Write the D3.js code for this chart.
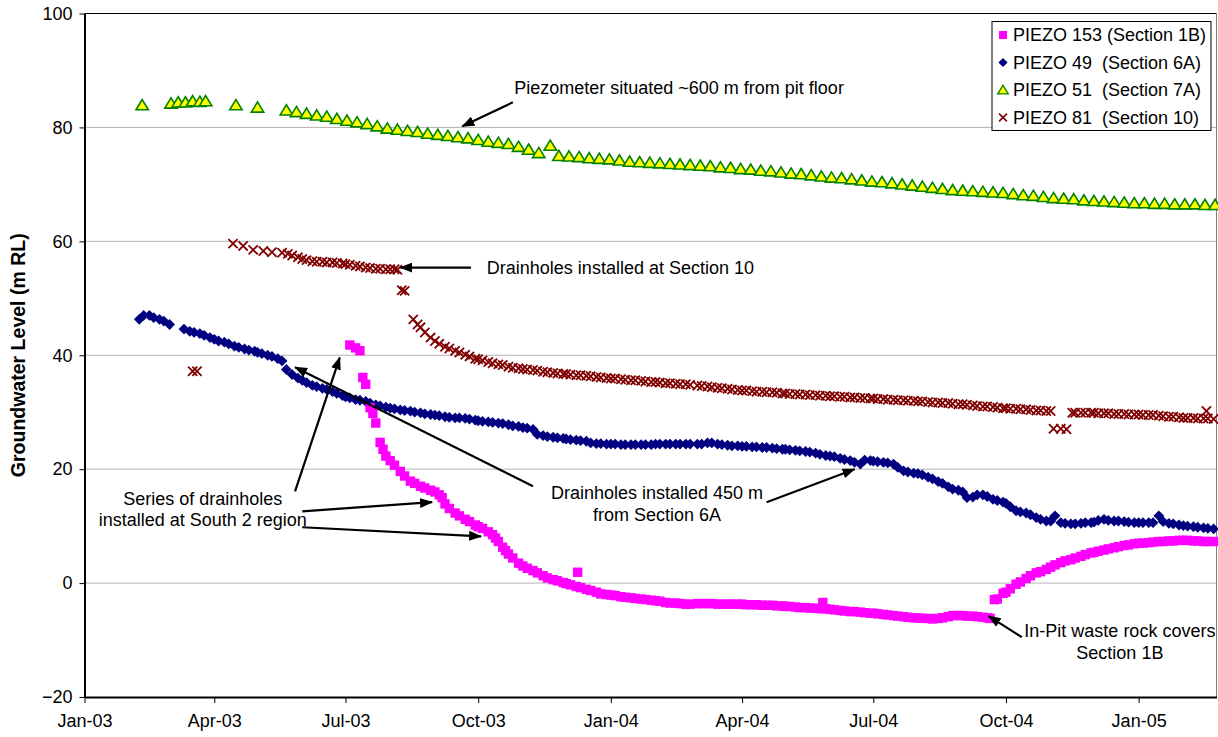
<!DOCTYPE html>
<html>
<head>
<meta charset="utf-8">
<script src="https://cdn.jsdelivr.net/npm/d3@7"></script>
<style>
  body { margin: 0; background: #fff; }
  text { font-family: "Liberation Sans", Arial, sans-serif; fill: #000; }
</style>
</head>
<body>
<svg id="chart" width="1218" height="737"></svg>
<script>
// ---- data (date yy-mm-dd, level m RL) ----
const seriesNames = ["PIEZO 153 (Section 1B)", "PIEZO 49  (Section 6A)", "PIEZO 51  (Section 7A)", "PIEZO 81  (Section 10)"];
const yTicks = [-20, 0, 20, 40, 60, 80, 100];
const xRange = ["03-01-01", "05-02-24"];

const piezo153 = [
  ["03-07-04",41.8],["03-07-08",41.3],["03-07-11",40.8],["03-07-13",36.1],["03-07-15",34.9],["03-07-18",30.8],["03-07-20",29.8],["03-07-22",28.1],["03-07-25",24.7],["03-07-27",23.5],["03-07-29",22.3],
  ["03-08-01",21.5],["03-08-04",20.7],["03-08-08",19.6],["03-08-11",18.8],["03-08-15",17.9],["03-08-18",17.5],["03-08-22",17.0],["03-08-25",16.7],["03-08-29",16.3],
  ["03-09-01",16.0],["03-09-04",15.5],["03-09-06",15.0],["03-09-08",13.9],["03-09-11",13.1],["03-09-15",12.3],["03-09-18",11.8],["03-09-22",11.2],["03-09-25",10.8],["03-09-29",10.2],
  ["03-10-01",9.9],["03-10-04",9.6],["03-10-08",9.0],["03-10-11",8.5],["03-10-13",7.9],["03-10-15",7.3],["03-10-18",6.3],["03-10-20",5.7],["03-10-22",5.1],["03-10-25",4.4],["03-10-29",3.5],
  ["03-11-01",3.0],["03-11-04",2.6],["03-11-08",2.2],["03-11-11",1.8],["03-11-15",1.3],["03-11-18",0.9],["03-11-22",0.6],["03-11-25",0.4],["03-11-29",0.1],
  ["03-12-01",-0.1],["03-12-04",-0.3],["03-12-08",-0.6],["03-12-09",1.9],["03-12-11",-0.8],["03-12-15",-1.1],["03-12-18",-1.3],["03-12-22",-1.6],["03-12-25",-1.9],["03-12-29",-2.0],
  ["04-01-01",-2.1],["04-01-04",-2.2],["04-01-08",-2.4],["04-01-11",-2.5],["04-01-15",-2.6],["04-01-18",-2.7],["04-01-22",-2.8],["04-01-25",-2.9],["04-01-29",-3.0],
  ["04-02-01",-3.1],["04-02-04",-3.2],["04-02-08",-3.4],["04-02-11",-3.5],["04-02-15",-3.5],["04-02-18",-3.6],["04-02-22",-3.7],["04-02-25",-3.7],
  ["04-03-01",-3.6],["04-03-04",-3.6],["04-03-08",-3.6],["04-03-11",-3.6],["04-03-15",-3.7],["04-03-18",-3.7],["04-03-22",-3.7],["04-03-25",-3.7],["04-03-29",-3.7],
  ["04-04-01",-3.7],["04-04-04",-3.8],["04-04-08",-3.8],["04-04-11",-3.8],["04-04-15",-3.9],["04-04-18",-3.9],["04-04-22",-3.9],["04-04-25",-4.0],["04-04-29",-4.0],
  ["04-05-01",-4.1],["04-05-04",-4.1],["04-05-08",-4.2],["04-05-11",-4.3],["04-05-15",-4.3],["04-05-18",-4.4],["04-05-22",-4.4],["04-05-25",-4.5],["04-05-27",-3.4],["04-05-29",-4.5],
  ["04-06-01",-4.6],["04-06-04",-4.7],["04-06-08",-4.8],["04-06-11",-4.9],["04-06-15",-5.0],["04-06-18",-5.0],["04-06-22",-5.1],["04-06-25",-5.2],["04-06-29",-5.3],
  ["04-07-01",-5.3],["04-07-04",-5.4],["04-07-08",-5.5],["04-07-11",-5.6],["04-07-15",-5.7],["04-07-18",-5.8],["04-07-22",-5.9],["04-07-25",-6.0],["04-07-29",-6.1],
  ["04-08-01",-6.1],["04-08-04",-6.2],["04-08-08",-6.2],["04-08-11",-6.3],["04-08-15",-6.2],["04-08-18",-6.1],["04-08-22",-5.9],["04-08-25",-5.7],["04-08-29",-5.7],
  ["04-09-01",-5.7],["04-09-04",-5.8],["04-09-08",-5.8],["04-09-11",-5.9],["04-09-15",-6.0],["04-09-18",-6.1],["04-09-20",-6.2],["04-09-23",-2.9],["04-09-25",-2.8],["04-09-29",-1.8],
  ["04-10-01",-1.6],["04-10-04",-1.0],["04-10-08",-0.2],["04-10-11",0.2],["04-10-15",0.8],["04-10-18",1.3],["04-10-22",1.8],["04-10-25",2.0],["04-10-29",2.4],
  ["04-11-01",2.8],["04-11-04",3.2],["04-11-08",3.6],["04-11-11",3.9],["04-11-15",4.1],["04-11-18",4.4],["04-11-22",4.7],["04-11-25",5.0],["04-11-29",5.3],
  ["04-12-01",5.4],["04-12-04",5.6],["04-12-08",5.8],["04-12-11",6.0],["04-12-15",6.2],["04-12-18",6.4],["04-12-22",6.6],["04-12-25",6.7],["04-12-29",6.9],
  ["05-01-01",7.0],["05-01-04",7.0],["05-01-08",7.1],["05-01-11",7.2],["05-01-15",7.3],["05-01-18",7.3],["05-01-22",7.4],["05-01-25",7.4],["05-01-29",7.5],
  ["05-02-01",7.5],["05-02-04",7.5],["05-02-08",7.4],["05-02-11",7.4],["05-02-15",7.3],["05-02-18",7.3],["05-02-22",7.3]
];

const piezo49 = [
  ["03-02-08",46.3],["03-02-11",47.0],["03-02-15",47.0],["03-02-18",46.6],["03-02-22",46.3],["03-02-25",46.0],
  ["03-03-01",45.4],["03-03-11",44.6],["03-03-15",44.2],["03-03-18",44.0],["03-03-22",43.8],["03-03-25",43.5],["03-03-29",43.1],
  ["03-04-01",42.8],["03-04-04",42.5],["03-04-08",42.3],["03-04-11",42.0],["03-04-15",41.6],["03-04-18",41.4],["03-04-22",41.1],["03-04-25",40.9],["03-04-29",40.7],
  ["03-05-01",40.5],["03-05-04",40.3],["03-05-08",40.0],["03-05-11",39.8],["03-05-15",39.4],["03-05-18",39.0],["03-05-21",37.5],["03-05-25",36.6],["03-05-29",36.0],
  ["03-06-01",35.6],["03-06-04",35.2],["03-06-08",34.7],["03-06-11",34.5],["03-06-15",34.2],["03-06-18",34.0],["03-06-22",33.6],["03-06-25",33.3],["03-06-29",32.9],
  ["03-07-01",32.7],["03-07-04",32.5],["03-07-08",32.2],["03-07-11",32.1],["03-07-15",31.9],["03-07-18",31.6],["03-07-22",31.3],["03-07-25",31.1],["03-07-29",30.9],
  ["03-08-01",30.7],["03-08-04",30.6],["03-08-08",30.4],["03-08-11",30.3],["03-08-15",30.2],["03-08-18",30.0],["03-08-22",29.9],["03-08-25",29.7],["03-08-29",29.6],
  ["03-09-01",29.5],["03-09-04",29.4],["03-09-08",29.2],["03-09-11",29.1],["03-09-15",29.0],["03-09-18",29.0],["03-09-22",28.9],["03-09-25",28.8],["03-09-29",28.6],
  ["03-10-01",28.5],["03-10-04",28.4],["03-10-08",28.3],["03-10-11",28.2],["03-10-15",28.1],["03-10-18",28.0],["03-10-22",27.8],["03-10-25",27.6],["03-10-29",27.5],
  ["03-11-01",27.3],["03-11-04",27.2],["03-11-08",27.0],["03-11-11",26.1],["03-11-15",25.9],["03-11-18",25.7],["03-11-22",25.6],["03-11-25",25.5],["03-11-29",25.4],
  ["03-12-01",25.3],["03-12-04",25.2],["03-12-08",25.1],["03-12-11",25.0],["03-12-15",24.9],["03-12-18",24.6],["03-12-22",24.5],["03-12-25",24.5],["03-12-29",24.4],
  ["04-01-01",24.4],["04-01-04",24.4],["04-01-08",24.3],["04-01-11",24.3],["04-01-15",24.3],["04-01-18",24.3],["04-01-22",24.3],["04-01-25",24.3],["04-01-29",24.3],
  ["04-02-01",24.4],["04-02-04",24.4],["04-02-08",24.4],["04-02-11",24.4],["04-02-15",24.4],["04-02-18",24.4],["04-02-22",24.4],["04-02-25",24.4],
  ["04-03-01",24.4],["04-03-04",24.4],["04-03-08",24.6],["04-03-11",24.6],["04-03-15",24.4],["04-03-18",24.3],["04-03-22",24.2],["04-03-25",24.1],["04-03-29",24.1],
  ["04-04-01",24.0],["04-04-04",24.0],["04-04-08",23.9],["04-04-11",23.9],["04-04-15",23.8],["04-04-18",23.8],["04-04-22",23.7],["04-04-25",23.6],["04-04-29",23.5],
  ["04-05-01",23.5],["04-05-04",23.4],["04-05-08",23.3],["04-05-11",23.2],["04-05-15",23.1],["04-05-18",23.0],["04-05-22",22.8],["04-05-25",22.6],["04-05-29",22.4],
  ["04-06-01",22.3],["04-06-04",22.2],["04-06-08",21.9],["04-06-11",21.7],["04-06-15",21.5],["04-06-18",21.2],["04-06-22",20.9],["04-06-25",21.6],["04-06-29",21.5],
  ["04-07-01",21.4],["04-07-04",21.3],["04-07-08",21.2],["04-07-11",21.1],["04-07-15",20.9],["04-07-18",20.3],["04-07-22",19.7],["04-07-25",19.5],["04-07-29",19.3],
  ["04-08-01",19.2],["04-08-04",19.0],["04-08-08",18.6],["04-08-11",18.3],["04-08-15",17.8],["04-08-18",17.5],["04-08-22",16.9],["04-08-25",16.5],["04-08-29",16.3],
  ["04-09-01",16.0],["04-09-04",15.0],["04-09-08",15.1],["04-09-11",15.5],["04-09-15",15.5],["04-09-18",15.2],["04-09-22",14.7],["04-09-25",14.5],["04-09-29",14.2],
  ["04-10-01",14.0],["04-10-04",13.4],["04-10-08",12.7],["04-10-11",12.5],["04-10-15",12.3],["04-10-18",12.0],["04-10-22",11.5],["04-10-25",11.2],["04-10-29",10.9],
  ["04-11-01",10.9],["04-11-04",11.8],["04-11-08",10.6],["04-11-11",10.5],["04-11-15",10.4],["04-11-18",10.4],["04-11-22",10.5],["04-11-25",10.6],["04-11-29",10.6],
  ["04-12-01",10.7],["04-12-04",11.0],["04-12-08",11.2],["04-12-11",11.0],["04-12-15",10.9],["04-12-18",10.9],["04-12-22",10.8],["04-12-25",10.7],["04-12-29",10.6],
  ["05-01-01",10.6],["05-01-04",10.6],["05-01-08",10.6],["05-01-11",10.6],["05-01-15",11.8],["05-01-18",10.8],["05-01-22",10.5],["05-01-25",10.4],["05-01-29",10.2],
  ["05-02-01",10.1],["05-02-04",10.0],["05-02-08",9.9],["05-02-11",9.8],["05-02-15",9.7],["05-02-18",9.6],["05-02-22",9.5]
];

const piezo51 = [
  ["03-02-10",83.9],["03-03-02",84.2],["03-03-07",84.4],["03-03-12",84.4],["03-03-17",84.6],["03-03-22",84.5],["03-03-26",84.6],["03-04-16",83.9],["03-05-01",83.5],
  ["03-05-21",83.0],["03-05-28",82.7],["03-06-04",82.4],["03-06-11",82.1],["03-06-18",81.9],["03-06-25",81.5],
  ["03-07-02",81.2],["03-07-09",80.9],["03-07-16",80.6],["03-07-23",80.2],["03-07-30",79.8],
  ["03-08-06",79.6],["03-08-13",79.4],["03-08-20",79.2],["03-08-27",78.9],
  ["03-09-03",78.7],["03-09-10",78.5],["03-09-17",78.3],["03-09-24",78.1],
  ["03-10-01",77.8],["03-10-08",77.5],["03-10-15",77.3],["03-10-22",77.1],["03-10-29",76.6],
  ["03-11-05",76.1],["03-11-12",75.5],["03-11-20",76.8],["03-11-26",75.0],
  ["03-12-03",74.9],["03-12-10",74.8],["03-12-17",74.6],["03-12-24",74.5],["03-12-31",74.4],
  ["04-01-07",74.2],["04-01-14",74.0],["04-01-21",73.9],["04-01-28",73.8],
  ["04-02-04",73.7],["04-02-11",73.6],["04-02-18",73.5],["04-02-25",73.4],
  ["04-03-03",73.3],["04-03-10",73.2],["04-03-17",73.0],["04-03-24",72.9],["04-03-31",72.7],
  ["04-04-07",72.6],["04-04-14",72.4],["04-04-21",72.3],["04-04-28",72.1],
  ["04-05-05",71.9],["04-05-12",71.8],["04-05-19",71.6],["04-05-26",71.4],
  ["04-06-02",71.2],["04-06-09",71.1],["04-06-16",70.9],["04-06-23",70.7],["04-06-30",70.5],
  ["04-07-07",70.4],["04-07-14",70.2],["04-07-21",70.0],["04-07-28",69.8],
  ["04-08-04",69.6],["04-08-11",69.4],["04-08-18",69.2],["04-08-25",69.0],
  ["04-09-01",68.9],["04-09-08",68.8],["04-09-15",68.7],["04-09-22",68.6],["04-09-29",68.5],
  ["04-10-06",68.3],["04-10-13",68.1],["04-10-20",68.0],["04-10-27",67.8],
  ["04-11-03",67.6],["04-11-10",67.5],["04-11-17",67.4],["04-11-24",67.2],
  ["04-12-01",67.1],["04-12-08",67.0],["04-12-15",66.9],["04-12-22",66.8],["04-12-29",66.7],
  ["05-01-05",66.7],["05-01-12",66.6],["05-01-19",66.6],["05-01-26",66.5],
  ["05-02-02",66.5],["05-02-09",66.5],["05-02-16",66.4],["05-02-23",66.4]
];

const piezo81 = [
  ["03-03-17",37.2],["03-03-20",37.2],
  ["03-04-14",59.6],["03-04-21",59.2],["03-04-28",58.5],["03-05-05",58.3],["03-05-11",58.1],["03-05-18",58.0],["03-05-22",57.8],["03-05-25",57.5],["03-05-29",57.2],
  ["03-06-01",56.9],["03-06-04",56.7],["03-06-08",56.5],["03-06-11",56.4],["03-06-15",56.4],["03-06-18",56.3],["03-06-22",56.3],["03-06-25",56.2],["03-06-29",56.1],
  ["03-07-01",56.0],["03-07-04",55.9],["03-07-08",55.7],["03-07-11",55.6],["03-07-15",55.4],["03-07-18",55.3],["03-07-22",55.2],["03-07-25",55.2],["03-07-29",55.1],
  ["03-08-01",55.1],["03-08-04",55.1],["03-08-06",55.0],["03-08-09",51.4],["03-08-11",51.3],["03-08-17",46.3],["03-08-20",45.4],["03-08-22",44.9],["03-08-25",44.0],["03-08-29",43.1],
  ["03-09-01",42.5],["03-09-04",42.0],["03-09-08",41.5],["03-09-11",41.2],["03-09-15",40.8],["03-09-18",40.5],["03-09-22",40.1],["03-09-25",39.8],["03-09-29",39.4],
  ["03-10-01",39.3],["03-10-04",39.1],["03-10-08",38.8],["03-10-11",38.6],["03-10-15",38.4],["03-10-18",38.3],["03-10-22",38.0],["03-10-25",37.8],["03-10-29",37.7],
  ["03-11-01",37.6],["03-11-04",37.5],["03-11-08",37.4],["03-11-11",37.3],["03-11-15",37.1],["03-11-18",37.0],["03-11-22",36.9],["03-11-25",36.8],["03-11-29",36.7],
  ["03-12-01",36.7],["03-12-04",36.6],["03-12-08",36.5],["03-12-11",36.5],["03-12-15",36.4],["03-12-18",36.3],["03-12-22",36.2],["03-12-25",36.1],["03-12-29",36.0],
  ["04-01-01",35.9],["04-01-04",35.9],["04-01-08",35.8],["04-01-11",35.7],["04-01-15",35.6],["04-01-18",35.6],["04-01-22",35.5],["04-01-25",35.4],["04-01-29",35.3],
  ["04-02-01",35.3],["04-02-04",35.2],["04-02-08",35.1],["04-02-11",35.1],["04-02-15",35.0],["04-02-18",34.9],["04-02-22",34.9],["04-02-25",34.8],
  ["04-03-01",34.7],["04-03-04",34.6],["04-03-08",34.5],["04-03-11",34.4],["04-03-15",34.3],["04-03-18",34.2],["04-03-22",34.1],["04-03-25",34.0],["04-03-29",33.9],
  ["04-04-01",33.8],["04-04-04",33.8],["04-04-08",33.7],["04-04-11",33.6],["04-04-15",33.6],["04-04-18",33.5],["04-04-22",33.5],["04-04-25",33.4],["04-04-29",33.3],
  ["04-05-01",33.3],["04-05-04",33.2],["04-05-08",33.2],["04-05-11",33.1],["04-05-15",33.1],["04-05-18",33.0],["04-05-22",33.0],["04-05-25",32.9],["04-05-29",32.9],
  ["04-06-01",32.8],["04-06-04",32.8],["04-06-08",32.7],["04-06-11",32.7],["04-06-15",32.6],["04-06-18",32.6],["04-06-22",32.5],["04-06-25",32.5],["04-06-29",32.4],
  ["04-07-01",32.4],["04-07-04",32.3],["04-07-08",32.3],["04-07-11",32.2],["04-07-15",32.2],["04-07-18",32.1],["04-07-22",32.1],["04-07-25",32.0],["04-07-29",32.0],
  ["04-08-01",31.9],["04-08-04",31.9],["04-08-08",31.8],["04-08-11",31.7],["04-08-15",31.7],["04-08-18",31.6],["04-08-22",31.6],["04-08-25",31.5],["04-08-29",31.4],
  ["04-09-01",31.4],["04-09-04",31.3],["04-09-08",31.2],["04-09-11",31.1],["04-09-15",31.0],["04-09-18",31.0],["04-09-22",30.9],["04-09-25",30.8],["04-09-29",30.7],
  ["04-10-01",30.7],["04-10-04",30.6],["04-10-08",30.6],["04-10-11",30.5],["04-10-15",30.5],["04-10-18",30.4],["04-10-22",30.3],["04-10-25",30.3],["04-10-29",30.2],
  ["04-11-01",30.2],["04-11-03",27.1],["04-11-08",27.1],["04-11-12",27.0],["04-11-16",29.9],["04-11-18",29.9],["04-11-22",29.9],["04-11-25",29.9],["04-11-29",29.9],
  ["04-12-01",29.9],["04-12-04",29.8],["04-12-08",29.8],["04-12-11",29.8],["04-12-15",29.7],["04-12-18",29.7],["04-12-22",29.7],["04-12-25",29.6],["04-12-29",29.6],
  ["05-01-01",29.6],["05-01-04",29.5],["05-01-08",29.5],["05-01-11",29.5],["05-01-15",29.4],["05-01-18",29.3],["05-01-22",29.2],["05-01-25",29.2],["05-01-29",29.1],
  ["05-02-01",29.0],["05-02-04",29.0],["05-02-08",29.0],["05-02-11",28.9],["05-02-15",28.9],["05-02-17",30.2],["05-02-18",28.9],["05-02-22",28.8]
];

// annotation texts, anchored in data space
const notes = [
  {lines: ["Piezometer situated ~600 m from pit floor"], at: ["03-10-26", 87.0], anchor: "start"},
  {lines: ["Drainholes installed at Section 10"], at: ["03-10-07", 55.3], anchor: "start"},
  {lines: ["Drainholes installed 450 m", "from Section 6A"], at: ["04-02-02", 15.8], anchor: "middle"},
  {lines: ["Series of drainholes", "installed at South 2 region"], at: ["03-03-24", 14.9], anchor: "middle"},
  {lines: ["In-Pit waste rock covers", "Section 1B"], at: ["04-12-19", -8.4], anchor: "middle"}
];
const arrows = [
  [["03-10-25", 84.4], ["03-09-20", 80.2]],
  [["03-09-26", 55.4], ["03-08-08", 55.4]],
  [["03-11-08", 17.0], ["03-05-27", 37.9]],
  [["04-04-18", 14.2], ["04-06-18", 20.0]],
  [["03-05-27", 16.1], ["03-06-27", 39.6]],
  [["03-06-01", 12.6], ["03-08-30", 14.2]],
  [["03-06-01", 9.8], ["03-10-03", 8.2]],
  [["04-10-12", -9.5], ["04-09-19", -5.8]]
];

// ---- layout ----
const WIDTH = 1218;
const HEIGHT = 737;
const LEFT = 84.5, RIGHT = 1216.5, TOP = 13.5, BOTTOM = 697;
const FONT = 18;

const parseDay = d3.timeParse("%y-%m-%d");

const xScale = d3.scaleTime()
    .domain(xRange.map(parseDay))
    .range([LEFT, RIGHT]);

const yScale = d3.scaleLinear()
    .domain([yTicks[0], yTicks[yTicks.length - 1]])
    .range([BOTTOM, TOP]);

const svg = d3.select('#chart');

// gridlines
svg.append('g')
  .selectAll('line')
  .data(yTicks.slice(1, -1))
  .enter().append('line')
    .attr('x1', LEFT).attr('x2', RIGHT)
    .attr('y1', d => yScale(d)).attr('y2', d => yScale(d))
    .attr('stroke', '#b3b3b3').attr('stroke-width', 1);

// plot border (top and right)
svg.append('line').attr('x1', LEFT).attr('x2', RIGHT).attr('y1', TOP).attr('y2', TOP)
    .attr('stroke', '#000').attr('stroke-width', 1.2);
svg.append('line').attr('x1', RIGHT).attr('x2', RIGHT).attr('y1', TOP).attr('y2', BOTTOM)
    .attr('stroke', '#808080').attr('stroke-width', 1);

// axes
const yAxis = d3.axisLeft(yScale).tickValues(yTicks).tickSize(5).tickSizeOuter(0).tickPadding(7);
const xAxis = d3.axisBottom(xScale)
    .ticks(d3.timeMonth.every(3))
    .tickFormat(d3.timeFormat('%b-%y'))
    .tickSize(6).tickSizeOuter(0).tickPadding(11);

const gy = svg.append('g').attr('transform', 'translate(' + LEFT + ',0)').call(yAxis);
const gx = svg.append('g').attr('transform', 'translate(0,' + BOTTOM + ')').call(xAxis);
[gx, gy].forEach(function (g) {
  g.select('.domain').attr('stroke', '#000').attr('stroke-width', 2);
  g.selectAll('.tick line').attr('stroke', '#000').attr('stroke-width', 1);
  g.selectAll('.tick text')
    .attr('font-family', '"Liberation Sans", Arial, sans-serif')
    .attr('font-size', FONT).attr('fill', '#000');
});

svg.append('text')
    .attr('transform', 'translate(25,' + ((TOP + BOTTOM) / 2) + ') rotate(-90)')
    .attr('text-anchor', 'middle')
    .attr('font-size', 19.5)
    .attr('font-weight', 'bold')
    .text('Groundwater Level (m RL)');

// ---- series ----
const markerPath = {
  square: 'M-4.7,-4.7h9.4v9.4h-9.4z',
  diamond: 'M0,-5.4L5.4,0L0,5.4L-5.4,0Z',
  triangle: 'M0,-5.6L6.2,4.6L-6.2,4.6Z',
  cross: 'M-4.6,-4.6L4.6,4.6M-4.6,4.6L4.6,-4.6'
};
const seriesStyle = [
  {shape: 'square', fill: '#ff00ff', stroke: 'none', width: 0},
  {shape: 'diamond', fill: '#000080', stroke: 'none', width: 0},
  {shape: 'triangle', fill: '#ffff00', stroke: '#008000', width: 1.6},
  {shape: 'cross', fill: 'none', stroke: '#800000', width: 1.8}
];
const seriesData = [piezo153, piezo49, piezo51, piezo81];
const drawOrder = [1, 2, 3, 0];

drawOrder.forEach(function (i) {
  const st = seriesStyle[i];
  svg.append('g').attr('class', 'series-' + i)
    .selectAll('path')
    .data(seriesData[i])
    .enter().append('path')
      .attr('transform', d => 'translate(' + xScale(parseDay(d[0])) + ',' + yScale(d[1]) + ')')
      .attr('d', markerPath[st.shape])
      .attr('fill', st.fill)
      .attr('stroke', st.stroke)
      .attr('stroke-width', st.width);
});

// ---- annotations ----
svg.append('defs').append('marker')
    .attr('id', 'head')
    .attr('viewBox', '0 0 13 10')
    .attr('refX', 12).attr('refY', 5)
    .attr('markerWidth', 13).attr('markerHeight', 10)
    .attr('markerUnits', 'userSpaceOnUse')
    .attr('orient', 'auto')
  .append('path')
    .attr('d', 'M0,0L13,5L0,10Z')
    .attr('fill', '#000');

svg.append('g')
  .selectAll('line')
  .data(arrows)
  .enter().append('line')
    .attr('x1', d => xScale(parseDay(d[0][0]))).attr('y1', d => yScale(d[0][1]))
    .attr('x2', d => xScale(parseDay(d[1][0]))).attr('y2', d => yScale(d[1][1]))
    .attr('stroke', '#000').attr('stroke-width', 2.2)
    .attr('marker-end', 'url(#head)');

notes.forEach(function (n) {
  const t = svg.append('text')
      .attr('x', xScale(parseDay(n.at[0])))
      .attr('y', yScale(n.at[1]))
      .attr('text-anchor', n.anchor)
      .attr('font-size', FONT);
  n.lines.forEach(function (line, k) {
    t.append('tspan')
      .attr('x', xScale(parseDay(n.at[0])))
      .attr('dy', k === 0 ? '0.35em' : '1.22em')
      .text(line);
  });
});

// ---- legend ----
const legend = svg.append('g').attr('transform', 'translate(992,21.5)');
legend.append('rect')
    .attr('width', 219).attr('height', 109)
    .attr('fill', '#fff').attr('stroke', '#000').attr('stroke-width', 1);
const rows = legend.selectAll('g.row')
    .data(seriesNames)
    .enter().append('g')
    .attr('transform', (d, i) => 'translate(11,' + (13.5 + i * 27.5) + ')');
rows.append('path')
    .attr('d', (d, i) => markerPath[seriesStyle[i].shape])
    .attr('transform', 'scale(0.85)')
    .attr('fill', (d, i) => seriesStyle[i].fill)
    .attr('stroke', (d, i) => seriesStyle[i].stroke)
    .attr('stroke-width', (d, i) => seriesStyle[i].width);
rows.append('text')
    .attr('x', 10).attr('dy', '0.35em')
    .attr('font-size', 18)
    .style('white-space', 'pre')
    .text(d => d);
</script>
</body>
</html>
